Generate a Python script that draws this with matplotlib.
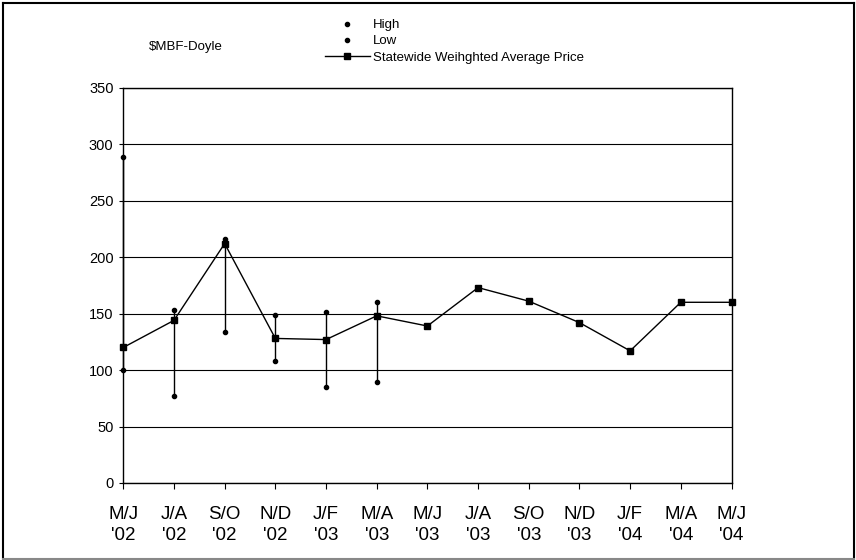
import matplotlib
matplotlib.use("Agg")
import matplotlib.pyplot as plt
from matplotlib.lines import Line2D
import numpy as np

plt.rcParams['font.family'] = ['Liberation Sans', 'DejaVu Sans']

categories = ["M/J\n'02", "J/A\n'02", "S/O\n'02", "N/D\n'02", "J/F\n'03", "M/A\n'03",
              "M/J\n'03", "J/A\n'03", "S/O\n'03", "N/D\n'03", "J/F\n'04", "M/A\n'04", "M/J\n'04"]
high = [289, 153, 216, 149, 151, 160, None, None, None, None, None, None, None]
low = [100, 77, 134, 108, 85, 89, None, None, None, None, None, None, None]
avg = [120, 144, 212, 128, 127, 148, 139, 173, 161, 142, 117, 160, 160]
y_ticks = [0, 50, 100, 150, 200, 250, 300, 350]

W, H = 856, 560
fig = plt.figure(figsize=(W / 100, H / 100), dpi=100)
ax = fig.add_axes([123.3 / W, 1 - 483 / H, (731.5 - 123.3) / W, (483 - 87.7) / H])

x = np.arange(len(categories))
hx = [i for i in x if high[i] is not None and low[i] is not None]
hh = [high[i] for i in hx]
ll = [low[i] for i in hx]

ax.vlines(hx, ll, hh, colors='black', linewidth=1.0, zorder=3, clip_on=False)
ax.plot(hx, hh, linestyle='none', marker='o', color='black', markersize=3.0,
        label='High', zorder=4, clip_on=False)
ax.plot(hx, ll, linestyle='none', marker='o', color='black', markersize=3.0,
        label='Low', zorder=4, clip_on=False)
ax.plot(x, avg, color='black', linewidth=1.0, marker='s', markersize=4.8,
        label='Statewide Weihghted Average Price', zorder=5, clip_on=False)

ax.set_xlim(0, len(categories) - 1)
ax.set_ylim(0, 350)
ax.set_yticks(y_ticks)
ax.set_yticklabels([str(v) for v in y_ticks], fontsize=10.5)
ax.set_xticks(x)
ax.set_xticklabels(categories, fontsize=13.5, linespacing=1.37)
ax.yaxis.grid(True, color='black', linewidth=0.8)
ax.set_axisbelow(True)
for s in ax.spines.values():
    s.set_color('black')
    s.set_linewidth(1.0)
ax.tick_params(axis='y', direction='out', length=3, width=0.8, pad=4)
ax.tick_params(axis='x', direction='out', length=4.3, width=0.8, pad=12)

fig.text(149 / W, 1 - 46.7 / H, '$MBF-Doyle', fontsize=9.5, ha='left', va='center')

leg = ax.legend(loc='upper left', bbox_to_anchor=(325 / W, 1 - 19 / H),
                bbox_transform=fig.transFigure, frameon=False, fontsize=9.5,
                handlelength=3.4, handletextpad=0.25, labelspacing=0.3,
                borderpad=0, borderaxespad=0, numpoints=1)

# outer frame
fig.add_artist(Line2D([3 / W, 854 / W], [1 - 3 / H, 1 - 3 / H], color='black', lw=1.5, transform=fig.transFigure))
fig.add_artist(Line2D([3 / W, 3 / W], [1 - 3 / H, 1 - 558.5 / H], color='black', lw=1.5, transform=fig.transFigure))
fig.add_artist(Line2D([854 / W, 854 / W], [1 - 3 / H, 1 - 558.5 / H], color='black', lw=1.5, transform=fig.transFigure))
fig.add_artist(Line2D([3 / W, 854 / W], [1 - 558.5 / H, 1 - 558.5 / H], color='#888888', lw=1.5, transform=fig.transFigure))

fig.savefig('out.png', dpi=100)
